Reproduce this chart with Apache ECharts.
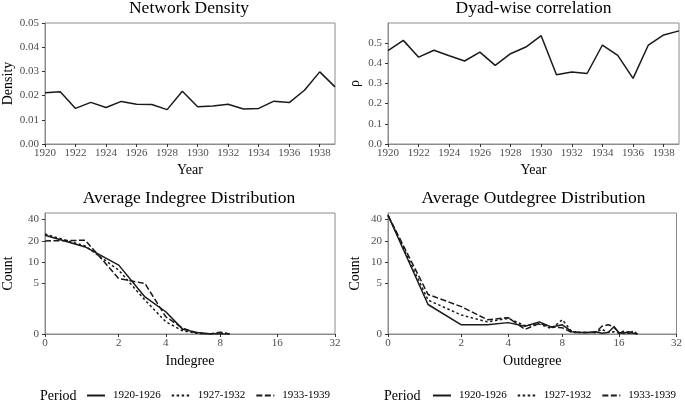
<!DOCTYPE html>
<html>
<head>
<meta charset="utf-8">
<script src="https://cdn.jsdelivr.net/npm/echarts@6/dist/echarts.min.js"></script>
<style>
  html, body { margin: 0; padding: 0; background: #fff; }
  #chart { width: 685px; height: 405px; }
</style>
</head>
<body>
<div id="chart"></div>
<script>
// years + top panel values
var years = [1920,1921,1922,1923,1924,1925,1926,1927,1928,1929,1930,1931,1932,1933,1934,1935,1936,1937,1938,1939];
var density = [0.0212,0.0216,0.0147,0.0172,0.0151,0.0176,0.0164,0.0163,0.0142,0.0218,0.0154,0.0157,0.0164,0.0145,0.0147,0.0177,0.0171,0.0222,0.0298,0.0236];
var rho = [0.462,0.513,0.430,0.464,0.437,0.411,0.455,0.389,0.447,0.480,0.536,0.343,0.356,0.349,0.490,0.439,0.325,0.490,0.540,0.560];

// degree distributions
var periods = ['1920-1926','1927-1932','1933-1939'];
var inDegree = [0,1,2,3,4,5,6,7,8,9];
var inCount1 = [24,16.5,9.1,3.0,1.56,0.3,0.1,0.02,0,0];
var inCount2 = [25,17,7.7,2.65,0.81,0.2,0.05,0,0.05,0];
var inCount3 = [20,20.5,5.8,4.9,1.17,0.37,0.05,0,0.12,0];
var outDegree = [0,1,2,3,4,5,6,7,8,9,10,11,12,13,14,15,16,17,18,19,20];
var outCount1 = [46,2.2,0.6,0.6,0.75,0.5,0.8,0.45,0.6,0.15,0.1,0.1,0.15,0.05,0.1,0.45,0.1,0.05,0.15,0.05,0];
var outCount2 = [46,2.65,1.3,0.8,1.05,0.55,0.65,0.35,0.95,0.15,0.1,0.1,0.1,0.3,0.1,0.15,0.05,0.2,0.05,0.2,0];
var outCount3 = [46,3.3,2.0,0.95,1.1,0.3,0.7,0.45,0.4,0.1,0.1,0.1,0.1,0.5,0.6,0.5,0.05,0.1,0.05,0.1,0];

// tick labels
var yearTicks = [1920,1922,1924,1926,1928,1930,1932,1934,1936,1938];
var densityTicks = [0,0.01,0.02,0.03,0.04,0.05];
var rhoTicks = [0,0.1,0.2,0.3,0.4,0.5];
var degreeTicks = [0,2,4,8,16,32];
var countTicks = [0,5,10,20,40];

var FONT = 'Liberation Serif';
var LINE = '#1a1a1a';
var GRAY = '#8c8c8c';
var dashTypes = ['solid', [2.5, 2.5], [6, 2.5]];

// pseudo-log scale (asinh(x/2)), same as ggplot pseudo_log
function plog(v){ return Math.asinh(v / 2); }
function unplog(v){ return Math.round(2 * Math.sinh(v)); }

var chart = echarts.init(document.getElementById('chart'), null, {renderer: 'canvas'});

var grids = [
  {left: 43, top: 23, width: 292, height: 121},
  {left: 388, top: 23, width: 291, height: 121},
  {left: 43, top: 213, width: 292, height: 121},
  {left: 388, top: 213, width: 291, height: 121}
];
grids.forEach(function(g){
  g.show = true; g.borderColor = GRAY; g.borderWidth = 1; g.backgroundColor = '#fff';
});

function baseAxis(idx, name, gap){
  return {
    gridIndex: idx,
    type: 'value',
    name: name,
    nameLocation: 'middle',
    nameGap: gap,
    nameTextStyle: {fontFamily: FONT, fontSize: 14, color: '#000'},
    axisLine: {show: true, lineStyle: {color: GRAY}},
    axisTick: {show: true, length: 3, lineStyle: {color: '#333'}},
    axisLabel: {fontFamily: FONT, fontSize: 11, color: '#4d4d4d'},
    splitLine: {show: false}
  };
}

function xYear(idx){
  var a = baseAxis(idx, 'Year', 19);
  a.min = 1920; a.max = 1939;
  a.axisLabel.margin = 4;
  a.axisLabel.customValues = yearTicks;
  a.axisTick.customValues = yearTicks;
  a.axisLabel.formatter = function(v){ return String(v); };
  return a;
}
function xDeg(idx, name){
  var a = baseAxis(idx, name, 20);
  var vals = degreeTicks.map(plog);
  a.min = 0; a.max = plog(32);
  a.axisLabel.margin = 4;
  a.axisLabel.customValues = vals;
  a.axisTick.customValues = vals;
  a.axisLabel.formatter = function(v){ return String(unplog(v)); };
  return a;
}
function yAxisOf(idx, name, gap, max, ticks, fmt){
  var a = baseAxis(idx, name, gap);
  a.min = 0; a.max = max;
  a.axisLabel.margin = 6;
  a.axisLabel.customValues = ticks;
  a.axisTick.customValues = ticks;
  if (fmt) a.axisLabel.formatter = fmt;
  return a;
}

var countVals = countTicks.map(plog);
var yAxes = [
  yAxisOf(0, 'Density', 30, 0.05, densityTicks, function(v){ return v.toFixed(2); }),
  yAxisOf(1, 'ρ', 26, 0.599, rhoTicks, function(v){ return v.toFixed(1); }),
  yAxisOf(2, 'Count', 30, 3.9, countVals, function(v){ return String(unplog(v)); }),
  yAxisOf(3, 'Count', 26, 3.9, countVals, function(v){ return String(unplog(v)); })
];

function pairs(xs, ys, tx){
  return xs.map(function(x, i){ return tx ? [plog(x), plog(ys[i])] : [x, ys[i]]; });
}

var series = [
  {type: 'line', xAxisIndex: 0, yAxisIndex: 0, data: pairs(years, density), showSymbol: false, symbol: 'none',
   lineStyle: {color: LINE, width: 1.5}, silent: true},
  {type: 'line', xAxisIndex: 1, yAxisIndex: 1, data: pairs(years, rho), showSymbol: false, symbol: 'none',
   lineStyle: {color: LINE, width: 1.5}, silent: true}
];
var inSets = [inCount1, inCount2, inCount3];
var outSets = [outCount1, outCount2, outCount3];
for (var i = 0; i < periods.length; i++) {
  series.push({
    name: periods[i], type: 'line', xAxisIndex: 2, yAxisIndex: 2,
    data: pairs(inDegree, inSets[i], true), symbol: 'none',
    itemStyle: {color: LINE},
    lineStyle: {color: LINE, width: 1.5, type: dashTypes[i]}, silent: true
  });
  series.push({
    name: periods[i], type: 'line', xAxisIndex: 3, yAxisIndex: 3,
    data: pairs(outDegree, outSets[i], true), symbol: 'none',
    itemStyle: {color: LINE},
    lineStyle: {color: LINE, width: 1.5, type: dashTypes[i]}, silent: true
  });
}

function panelTitle(text, cx, top){
  return {text: text, left: cx, top: top, textAlign: 'center', padding: 0,
    textStyle: {fontFamily: FONT, fontSize: 17.5, fontWeight: 'normal', color: '#000'}};
}
function legendTitle(x){
  return {text: 'Period', left: x, top: 389, padding: 0,
    textStyle: {fontFamily: FONT, fontSize: 14, fontWeight: 'normal', color: '#000'}};
}
function legendOf(x){
  return {
    data: periods, left: x, top: 390, orient: 'horizontal', padding: 0,
    itemWidth: 18, itemHeight: 12, itemGap: 10,
    selectedMode: false,
    itemStyle: {opacity: 0, borderWidth: 0},
    textStyle: {fontFamily: FONT, fontSize: 11, color: '#000', padding: [0, 0, 0, 3]}
  };
}

chart.setOption({
  animation: false,
  backgroundColor: '#fff',
  title: [
    panelTitle('Network Density', 189, -1),
    panelTitle('Dyad-wise correlation', 533.5, -1),
    panelTitle('Average Indegree Distribution', 189, 189),
    panelTitle('Average Outdegree Distribution', 533.5, 189),
    legendTitle(40),
    legendTitle(384)
  ],
  legend: [legendOf(86), legendOf(432)],
  grid: grids,
  xAxis: [xYear(0), xYear(1), xDeg(2, 'Indegree'), xDeg(3, 'Outdegree')],
  yAxis: yAxes,
  series: series
});
</script>
</body>
</html>
